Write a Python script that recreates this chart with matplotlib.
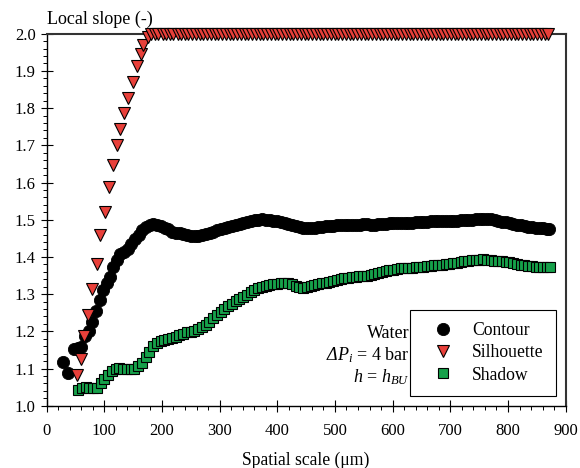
import matplotlib.pyplot as plt
from matplotlib.ticker import MultipleLocator

plt.rcParams['font.family'] = ['Liberation Serif', 'DejaVu Serif']
plt.rcParams['mathtext.fontset'] = 'custom'
plt.rcParams['mathtext.rm'] = 'Liberation Serif'
plt.rcParams['mathtext.it'] = 'Liberation Serif:italic'
plt.rcParams['mathtext.cal'] = 'Liberation Serif:italic'  # italic capital Greek

# local slope of the interface vs spatial scale, three detection methods
contour_x = [29, 38, 48, 54, 60, 66, 73, 79, 86, 92, 98, 104, 110, 116, 122, 128,
             135, 141, 147, 154, 160, 166, 173, 179, 185, 192, 198, 205, 211, 218,
             224, 231, 237, 244, 250, 257, 263, 270, 276, 283, 289, 296, 302, 309,
             315, 322, 328, 335, 341, 348, 354, 361, 367, 374, 380, 387, 393, 400,
             406, 413, 419, 426, 432, 439, 445, 452, 458, 465, 471, 478, 484, 491,
             497, 504, 510, 517, 523, 530, 536, 543, 549, 556, 562, 569, 575, 582,
             588, 595, 601, 608, 614, 621, 627, 634, 640, 647, 653, 660, 666, 673,
             679, 686, 692, 699, 705, 712, 718, 725, 731, 738, 744, 751, 757, 764,
             770, 777, 783, 790, 796, 803, 809, 816, 822, 829, 835, 842, 848, 855,
             861, 867, 871]
contour_y = [1.117, 1.087, 1.152, 1.156, 1.159, 1.187, 1.201, 1.226, 1.255, 1.284, 1.312,
             1.33, 1.347, 1.372, 1.393, 1.407, 1.414, 1.422, 1.435, 1.448, 1.46, 1.472,
             1.481, 1.487, 1.489, 1.487, 1.484, 1.478, 1.474, 1.468, 1.465, 1.463,
             1.461, 1.459, 1.457, 1.456, 1.457, 1.459, 1.462, 1.465, 1.468, 1.472,
             1.475, 1.478, 1.48, 1.483, 1.486, 1.489, 1.492, 1.495, 1.497, 1.499, 1.5,
             1.501, 1.5, 1.499, 1.497, 1.496, 1.494, 1.491, 1.488, 1.485, 1.483, 1.481,
             1.479, 1.478, 1.478, 1.479, 1.48, 1.481, 1.482, 1.483, 1.484, 1.485, 1.485,
             1.486, 1.486, 1.486, 1.487, 1.487, 1.488, 1.488, 1.487, 1.487, 1.488,
             1.488, 1.489, 1.49, 1.49, 1.491, 1.491, 1.491, 1.492, 1.492, 1.493, 1.494,
             1.495, 1.495, 1.496, 1.497, 1.497, 1.497, 1.496, 1.496, 1.497, 1.497,
             1.498, 1.499, 1.5, 1.5, 1.501, 1.502, 1.502, 1.502, 1.501, 1.499, 1.497,
             1.495, 1.493, 1.491, 1.489, 1.487, 1.485, 1.483, 1.481, 1.48, 1.479,
             1.478, 1.477, 1.476, 1.476]

silhouette_x = [53, 59, 65, 72, 79, 87, 93, 101, 108, 115, 122, 128, 135, 142, 149,
                156, 163, 168, 175, 181, 188, 194, 201, 207, 214, 220, 227, 233, 240,
                246, 253, 259, 266, 272, 279, 285, 292, 298, 305, 311, 318, 324, 331,
                337, 344, 350, 357, 363, 370, 376, 383, 389, 396, 402, 409, 415, 422,
                428, 435, 441, 448, 454, 461, 467, 474, 480, 487, 493, 500, 506, 513,
                519, 526, 532, 539, 545, 552, 558, 565, 571, 578, 584, 591, 597, 604,
                610, 617, 623, 630, 636, 643, 649, 656, 662, 669, 675, 682, 688, 695,
                701, 708, 714, 721, 727, 734, 740, 747, 753, 760, 766, 773, 779, 786,
                792, 799, 805, 812, 818, 825, 831, 838, 844, 851, 857, 864, 870]
silhouette_y = [1.083, 1.126, 1.188, 1.245, 1.315, 1.382, 1.458, 1.522, 1.587, 1.648,
                1.7, 1.745, 1.787, 1.826, 1.871, 1.913, 1.945, 1.97, 1.99, 1.998,
                2.0, 2.0, 2.0, 2.0, 2.0, 2.0, 2.0, 2.0, 2.0, 2.0, 2.0, 2.0, 2.0, 2.0,
                2.0, 2.0, 2.0, 2.0, 2.0, 2.0, 2.0, 2.0, 2.0, 2.0, 2.0, 2.0, 2.0, 2.0,
                2.0, 2.0, 2.0, 2.0, 2.0, 2.0, 2.0, 2.0, 2.0, 2.0, 2.0, 2.0, 2.0, 2.0,
                2.0, 2.0, 2.0, 2.0, 2.0, 2.0, 2.0, 2.0, 2.0, 2.0, 2.0, 2.0, 2.0, 2.0,
                2.0, 2.0, 2.0, 2.0, 2.0, 2.0, 2.0, 2.0, 2.0, 2.0, 2.0, 2.0, 2.0, 2.0,
                2.0, 2.0, 2.0, 2.0, 2.0, 2.0, 2.0, 2.0, 2.0, 2.0, 2.0, 2.0, 2.0, 2.0,
                2.0, 2.0, 2.0, 2.0, 2.0, 2.0, 2.0, 2.0, 2.0, 2.0, 2.0, 2.0, 2.0, 2.0,
                2.0, 2.0, 2.0, 2.0, 2.0, 2.0, 2.0, 2.0]

shadow_x = [55, 61, 68, 74, 81, 87, 94, 100, 107, 113, 120, 126, 133, 139, 146, 152,
            159, 165, 172, 178, 185, 191, 198, 204, 211, 217, 224, 230, 237, 243, 250,
            256, 263, 269, 276, 282, 289, 295, 302, 308, 315, 321, 328, 334, 341, 347,
            354, 360, 367, 373, 380, 386, 393, 399, 406, 412, 419, 425, 432, 438, 445,
            451, 458, 464, 471, 477, 484, 490, 497, 503, 510, 516, 523, 529, 536, 542,
            549, 555, 562, 568, 575, 581, 588, 594, 601, 607, 614, 620, 627, 633, 640,
            646, 653, 659, 666, 672, 679, 685, 692, 698, 705, 711, 718, 724, 731, 737,
            744, 750, 757, 763, 770, 776, 783, 789, 796, 802, 809, 815, 822, 828, 835,
            841, 848, 854, 861, 867, 873]
shadow_y = [1.042, 1.048, 1.051, 1.048, 1.047, 1.048, 1.06, 1.072, 1.083, 1.092, 1.099,
            1.101, 1.1, 1.099, 1.098, 1.1, 1.106, 1.114, 1.131, 1.145, 1.16, 1.168,
            1.173, 1.176, 1.179, 1.182, 1.186, 1.19, 1.194, 1.197, 1.199, 1.201, 1.205,
            1.212, 1.218, 1.226, 1.236, 1.244, 1.252, 1.259, 1.267, 1.274, 1.281,
            1.287, 1.293, 1.298, 1.305, 1.311, 1.316, 1.32, 1.323, 1.325, 1.327,
            1.328, 1.329, 1.33, 1.329, 1.328, 1.323, 1.318, 1.316, 1.319, 1.322, 1.325,
            1.327, 1.329, 1.331, 1.333, 1.335, 1.337, 1.34, 1.342, 1.344, 1.345, 1.347,
            1.348, 1.349, 1.35, 1.351, 1.354, 1.357, 1.359, 1.361, 1.364, 1.366, 1.368,
            1.369, 1.369, 1.37, 1.371, 1.372, 1.373, 1.374, 1.375, 1.376, 1.377, 1.378,
            1.379, 1.38, 1.381, 1.383, 1.384, 1.386, 1.388, 1.39, 1.391, 1.392, 1.393,
            1.394, 1.393, 1.392, 1.39, 1.389, 1.388, 1.386, 1.385, 1.383, 1.381, 1.379,
            1.377, 1.376, 1.375, 1.374, 1.374, 1.374, 1.374, 1.374]

fig = plt.figure(figsize=(5.8, 4.68), dpi=100)
ax = fig.add_axes([0.0803, 0.1331, 0.8950, 0.7949])

ax.plot(contour_x, contour_y, 'o', ms=8.8, mfc='black', mec='black', mew=0.6,
        label='Contour', clip_on=False, zorder=3)
ax.plot(silhouette_x, silhouette_y, 'v', ms=8.2, mfc='#e8403a', mec='black', mew=0.8,
        label='Silhouette', clip_on=False, zorder=3)
ax.plot(shadow_x, shadow_y, 's', ms=7.2, mfc='#16a04a', mec='black', mew=0.8,
        label='Shadow', clip_on=False, zorder=3)

ax.set_xlim(0, 900)
ax.set_ylim(1.0, 2.0)
ax.xaxis.set_major_locator(MultipleLocator(100))
ax.xaxis.set_minor_locator(MultipleLocator(20))
ax.yaxis.set_major_locator(MultipleLocator(0.1))
ax.yaxis.set_minor_locator(MultipleLocator(0.02))
ax.yaxis.set_major_formatter(plt.FormatStrFormatter('%.1f'))
ax.tick_params(which='major', direction='inout', length=8.5, width=0.8, labelsize=12,
               top=False, right=False)
ax.tick_params(which='minor', direction='out', length=3, width=0.7, top=False, right=False)
ax.tick_params(axis='x', which='major', pad=8.5)
for side in ['left', 'bottom']:
    ax.spines[side].set_linewidth(1.0)
for side in ['top', 'right']:
    ax.spines[side].set_linewidth(1.5)
    ax.spines[side].set_color('#333333')

ax.set_xlabel('Spatial scale (μm)', fontsize=12.7, labelpad=9)
ax.text(0.0, 1.015, 'Local slope (-)', transform=ax.transAxes, fontsize=13,
        ha='left', va='bottom')

ax.text(0.699, 0.195, 'Water', transform=ax.transAxes, fontsize=13, ha='right', va='center')
ax.text(0.699, 0.136, r'$\mathcal{\Delta}\mathit{P_i}$ = 4 bar', transform=ax.transAxes,
        fontsize=13, ha='right', va='center')
ax.text(0.699, 0.077, r'$\mathit{h}$ = $\mathit{h_{BU}}$', transform=ax.transAxes,
        fontsize=13, ha='right', va='center')

leg = ax.legend(loc='lower right', fontsize=12.7, frameon=True, fancybox=False,
                edgecolor='black', framealpha=1, numpoints=1, handlelength=2.3,
                handletextpad=0.5, borderpad=0.7, labelspacing=0.3,
                borderaxespad=0.55)
leg.get_frame().set_linewidth(0.8)

fig.savefig('out.png', dpi=100)
